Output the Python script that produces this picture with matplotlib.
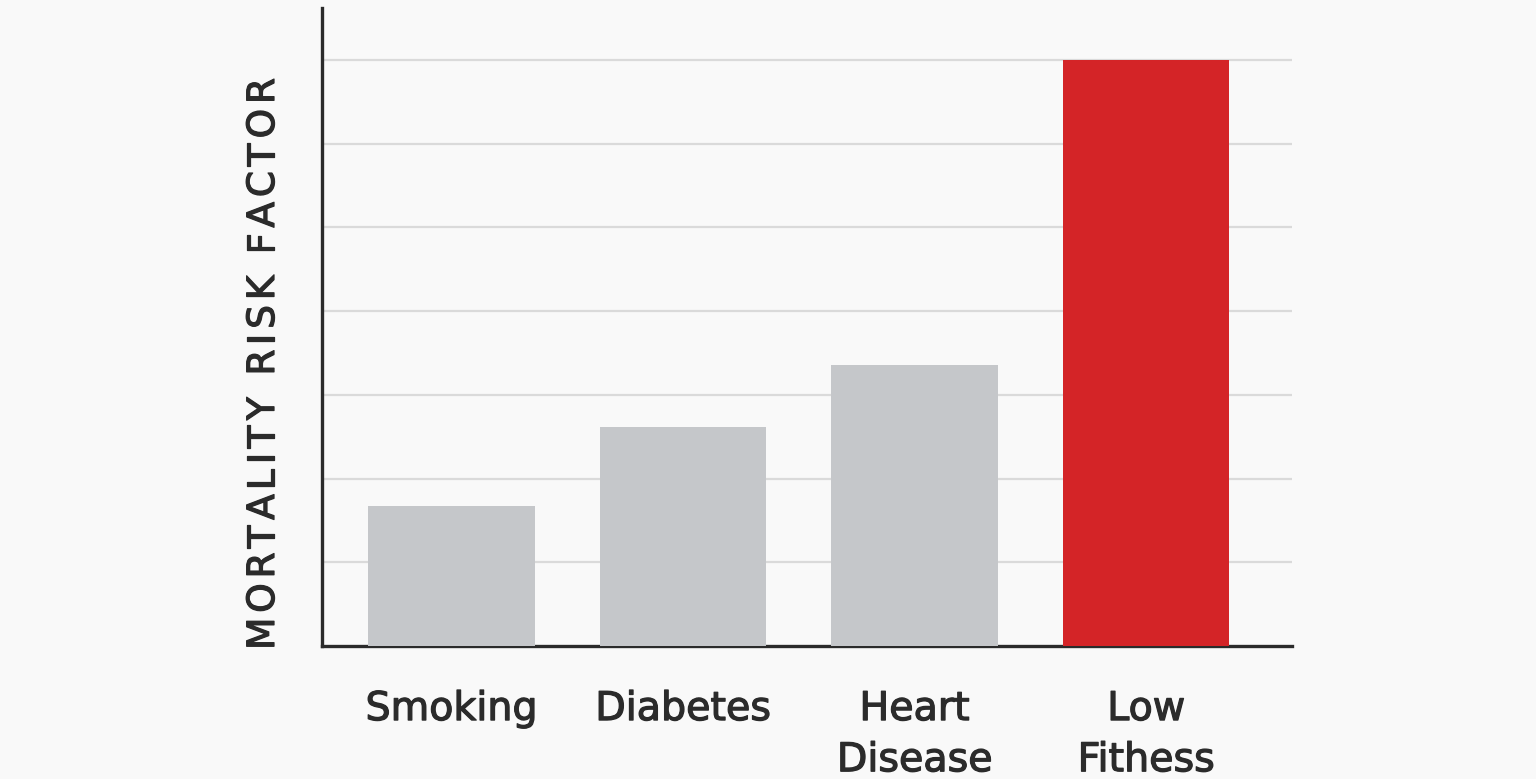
import matplotlib
matplotlib.use("Agg")
import matplotlib.pyplot as plt
from matplotlib import font_manager, patheffects
from matplotlib.ft2font import FT2Font

categories = ["Smoking", "Diabetes", "Heart\nDisease", "Low\nFithess"]
values = [1.67, 2.61, 3.36, 7.0]
bar_colors = ["#c5c7ca", "#c5c7ca", "#c5c7ca", "#d42427"]
grid_levels = [1, 2, 3, 4, 5, 6, 7]
ylabel = "MORTALITY RISK FACTOR"

bg = "#f9f9f9"
ink = "#2b2b2b"
W, H = 1536, 779
thick = [patheffects.withStroke(linewidth=0.9, foreground=ink)]

fig = plt.figure(figsize=(15.36, 7.79), dpi=100, facecolor=bg)
ax = fig.add_axes([322/W, 133/H, (1292-322)/W, (771-133)/H])
ax.set_facecolor(bg)

x = list(range(len(categories)))
ax.bar(x, values, width=0.72, color=bar_colors, zorder=3)

for g in grid_levels:
    ax.axhline(g, color="#dadada", linewidth=1.6, zorder=1)

ax.set_xlim(-0.56, 3.63)
ax.set_ylim(0, 7.62)

for s in ["top", "right"]:
    ax.spines[s].set_visible(False)
for s in ["left", "bottom"]:
    ax.spines[s].set_color(ink)
    ax.spines[s].set_linewidth(2.4)

ax.set_yticks([])
ax.set_xticks(x)
ax.set_xticklabels(categories, fontsize=28.5, color=ink, family="DejaVu Sans",
                   linespacing=1.36)
for lbl in ax.get_xticklabels():
    lbl.set_path_effects(thick)
ax.tick_params(axis="x", length=0, pad=31)

# letter-spaced vertical y label, one real text per character
fs = 27
fpath = font_manager.findfont(font_manager.FontProperties(family="DejaVu Sans"))
ft = FT2Font(fpath)
ft.set_size(fs, 100)
adv = []
for ch in ylabel:
    g = ft.load_char(ord(ch))
    adv.append(g.linearHoriAdvance / 65536.0)
target = 572.0
gap = (target - sum(adv)) / (len(ylabel) - 1)
pos = H - 650  # pixels from bottom where text starts
xc = 264
for ch, a in zip(ylabel, adv):
    if ch != " ":
        fig.text(xc / W, (pos + a / 2) / H, ch, rotation=90, ha="center", va="center",
                 fontsize=fs, color=ink, family="DejaVu Sans", path_effects=thick)
    pos += a + gap

fig.savefig("out.png", dpi=100, facecolor=bg)
